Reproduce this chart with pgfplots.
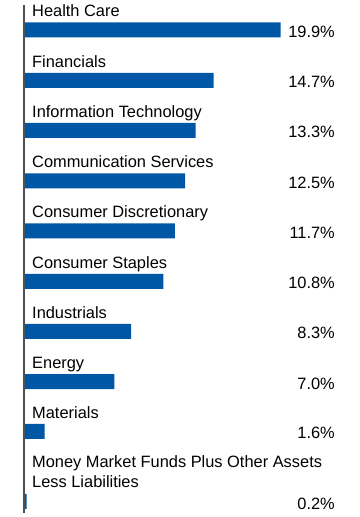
\documentclass[border=0pt]{standalone}
\usepackage{pgfplots}
\pgfplotsset{compat=1.18}
\usepackage{pgfplotstable}
\usepackage{fontspec}
\setmainfont{Liberation Sans}
\definecolor{barblue}{RGB}{0,87,166}
\definecolor{axisgray}{RGB}{80,80,80}

% sector weights; y is the bar centre measured upward from the bottom edge
\pgfplotstableread{
y      v
487.0  19.9
436.7  14.7
386.5  13.3
336.2  12.5
286.0  11.7
235.7  10.8
185.5  8.3
135.3  7.0
85.5   1.6
15.5   0.2
}\sectors

\begin{document}
\begin{tikzpicture}
\begin{axis}[
  scale only axis,
  width=360bp, height=517bp,
  xmin=-1.8605, xmax=26.047,
  ymin=0, ymax=517,
  hide axis,
  clip=false,
  /pgf/number format/assume math mode=true,
]
% bars
\addplot[xbar, bar width=15, fill=barblue, draw=none, bar shift=0pt]
  table[x=v, y=y] {\sectors};
% percentage labels, right aligned in a column
\addplot[draw=none, mark=none,
  nodes near coords={\fontsize{16.4bp}{19.5bp}\selectfont\pgfmathprintnumber[fixed,fixed zerofill,precision=1]{\pgfplotspointmeta}\%},
  nodes near coords align={anchor=base east},
  every node near coord/.append style={inner sep=0pt, text=black},
  point meta=explicit]
  table[x expr=24.11, y expr=\thisrow{y}-7.5, meta=v] {\sectors};

% vertical baseline
\draw[axisgray, line width=1.2bp] (axis cs:0,512) -- (axis cs:0,4);

% category names
\begin{scope}[every node/.style={anchor=base west, inner sep=0pt, xshift=8bp,
    font=\fontsize{16.4bp}{19.5bp}\selectfont}]
\node at (axis cs:0,500.0) {Health Care};
\node at (axis cs:0,449.7) {Financials};
\node at (axis cs:0,399.5) {Information Technology};
\node at (axis cs:0,349.2) {Communication Services};
\node at (axis cs:0,299.0) {Consumer Discretionary};
\node at (axis cs:0,248.7) {Consumer Staples};
\node at (axis cs:0,198.5) {Industrials};
\node at (axis cs:0,148.3) {Energy};
\node at (axis cs:0,98.5) {Materials};
\node at (axis cs:0,49.0) {Money Market Funds Plus Other Assets};
\node at (axis cs:0,30.0) {Less Liabilities};
\end{scope}

\path (rel axis cs:0,0) rectangle (rel axis cs:1,1);
\end{axis}
\end{tikzpicture}
\end{document}
